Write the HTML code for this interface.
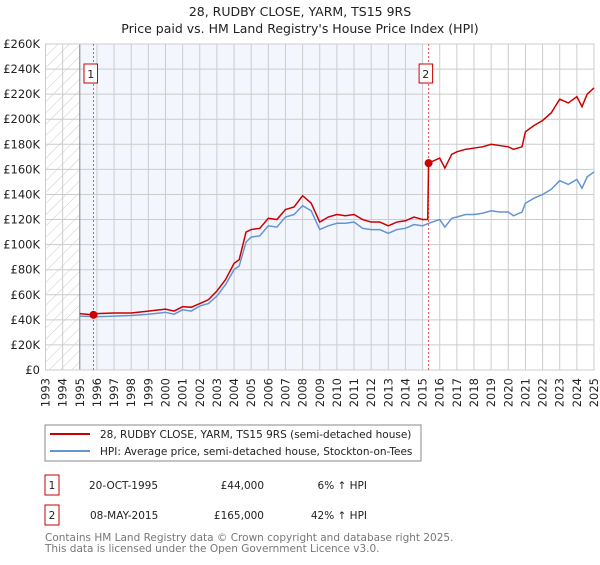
<!DOCTYPE html>
<html><head><meta charset="utf-8"><style>
body{margin:0;background:#fff;}
svg text{font-family:"DejaVu Sans","Liberation Sans",sans-serif;}
</style></head><body>
<svg id="c" width="600" height="560" viewBox="0 0 600 560" xmlns="http://www.w3.org/2000/svg">
<defs><pattern id="hatch" width="8" height="8" patternUnits="userSpaceOnUse" patternTransform="rotate(45)"><line x1="0" y1="0" x2="0" y2="8" stroke="#ccc" stroke-width="1"/></pattern></defs>
<text x="300" y="16" text-anchor="middle" font-size="12.5" fill="#222">28, RUDBY CLOSE, YARM, TS15 9RS</text>
<text x="300" y="33" text-anchor="middle" font-size="12.5" fill="#222">Price paid vs. HM Land Registry's House Price Index (HPI)</text>
<g id="plot"></g>
<g>
<rect x="45" y="425" width="376" height="36" fill="#fff" stroke="#888"/>
<line x1="50" y1="434" x2="90" y2="434" stroke="#cc0000" stroke-width="2"/>
<text x="100" y="438" font-size="10.5" fill="#222">28, RUDBY CLOSE, YARM, TS15 9RS (semi-detached house)</text>
<line x1="50" y1="451" x2="90" y2="451" stroke="#6495d2" stroke-width="2"/>
<text x="100" y="455" font-size="10.5" fill="#222">HPI: Average price, semi-detached house, Stockton-on-Tees</text>
</g>
<g font-size="10.5" fill="#222">
<rect x="45" y="475" width="14" height="20" fill="#fff" stroke="#cc0000"/>
<text x="52" y="489" text-anchor="middle">1</text>
<text x="89" y="489">20-OCT-1995</text>
<text x="264" y="489" text-anchor="end">£44,000</text>
<text x="367" y="489" text-anchor="end">6% ↑ HPI</text>
<rect x="45" y="505" width="14" height="20" fill="#fff" stroke="#cc0000"/>
<text x="52" y="519" text-anchor="middle">2</text>
<text x="90" y="519">08-MAY-2015</text>
<text x="264" y="519" text-anchor="end">£165,000</text>
<text x="367" y="519" text-anchor="end">42% ↑ HPI</text>
</g>
<text x="45" y="541" font-size="10.5" fill="#777">Contains HM Land Registry data © Crown copyright and database right 2025.</text>
<text x="45" y="552" font-size="10.5" fill="#777">This data is licensed under the Open Government Licence v3.0.</text>
</svg>
<script>
const hpiDates=[1995,1996,1997,1998,1999,2000,2000.5,2001,2001.5,2002,2002.5,2003,2003.5,2004,2004.3,2004.7,2005,2005.5,2006,2006.5,2007,2007.5,2008,2008.5,2009,2009.5,2010,2010.5,2011,2011.5,2012,2012.5,2013,2013.5,2014,2014.5,2015,2015.35,2016,2016.3,2016.7,2017,2017.5,2018,2018.5,2019,2019.5,2020,2020.3,2020.8,2021,2021.5,2022,2022.5,2023,2023.5,2024,2024.3,2024.6,2025];
const hpiValues=[43,42.5,43,43.5,44.5,46,44.5,48,47,51,53,59,68,80,83,102,106,107,115,114,122,124,131,127,112,115,117,117,118,113,112,112,109,112,113,116,115,117,120,114,121,122,124,124,125,127,126,126,123,126,133,137,140,144,151,148,152,145,154,158];
const priceDates=[1995,1995.8,1996,1997,1998,1999,2000,2000.5,2001,2001.5,2002,2002.5,2003,2003.5,2004,2004.3,2004.7,2005,2005.5,2006,2006.5,2007,2007.5,2008,2008.5,2009,2009.5,2010,2010.5,2011,2011.5,2012,2012.5,2013,2013.5,2014,2014.5,2015,2015.3,2015.35,2016,2016.3,2016.7,2017,2017.5,2018,2018.5,2019,2019.5,2020,2020.3,2020.8,2021,2021.5,2022,2022.5,2023,2023.5,2024,2024.3,2024.6,2025];
const priceValues=[45,44,45,45.5,45.5,47,48.5,47,50.5,50,53,56,63,72,85,88,110,112,113,121,120,128,130,139,133,118,122,124,123,124,120,118,118,115,118,119,122,120,120,165,169,161,172,174,176,177,178,180,179,178,176,178,190,195,199,205,216,213,218,210,220,225];
const saleDates=[1995.8,2015.35];
const saleValues=[44,165];
const saleLabels=["1","2"];
const yTicks=[0,20,40,60,80,100,120,140,160,180,200,220,240,260];
const yTickLabels=["£0","£20K","£40K","£60K","£80K","£100K","£120K","£140K","£160K","£180K","£200K","£220K","£240K","£260K"];
const xYears=[1993,1994,1995,1996,1997,1998,1999,2000,2001,2002,2003,2004,2005,2006,2007,2008,2009,2010,2011,2012,2013,2014,2015,2016,2017,2018,2019,2020,2021,2022,2023,2024,2025];

const L=45.5,R=594,T=44,B=370;
const x=d=>L+(d-1993)/(2025-1993)*(R-L);
const y=v=>B-v/260*(B-T);
const NS="http://www.w3.org/2000/svg";
const g=document.getElementById('plot');
function mk(t,a){const e=document.createElementNS(NS,t);for(const k in a)e.setAttribute(k,a[k]);g.appendChild(e);return e;}

let e=mk('rect',{x:x(1995),y:T,width:x(2015)-x(1995),height:B-T,fill:'#f3f6fd'});


e=mk('rect',{x:L,y:T,width:x(1995)-L,height:B-T,fill:'url(#hatch)'});


yTicks.forEach((v,i)=>{
  e=mk('line',{x1:L,x2:R,y1:y(v),y2:y(v),stroke:'#ccc','stroke-width':1});
  
  
  e=mk('text',{x:40,y:y(v)+4,'text-anchor':'end','font-size':'11.5',fill:'#222'});
  e.textContent=yTickLabels[i];
  
  
});
xYears.forEach(yr=>{
  e=mk('line',{x1:x(yr),x2:x(yr),y1:T,y2:B,stroke:'#ccc','stroke-width':1});
  
  
  const tx=x(yr)+4,ty=B+8;
  e=mk('text',{x:tx,y:ty,'text-anchor':'end','font-size':'11.5',fill:'#222',transform:`rotate(-90 ${tx} ${ty})`});
  e.textContent=yr;
  
  
});
e=mk('line',{x1:x(1995),x2:x(1995),y1:T,y2:B,stroke:'#888','stroke-width':1});


e=mk('rect',{x:L,y:T,width:R-L,height:B-T,fill:'none',stroke:'#ccc'});


saleDates.forEach((d,i)=>{
  e=mk('line',{x1:x(d),x2:x(d),y1:T,y2:B,stroke:'#f05050','stroke-width':1,'stroke-dasharray':'2,2'});
  
  
});
e=mk('polyline',{points:hpiDates.map((d,i)=>x(d)+','+y(hpiValues[i])).join(' '),fill:'none',stroke:'#6495d2','stroke-width':1.5});


e=mk('polyline',{points:priceDates.map((d,i)=>x(d)+','+y(priceValues[i])).join(' '),fill:'none',stroke:'#cc0000','stroke-width':1.5});


saleDates.forEach((d,i)=>{
  e=mk('circle',{cx:x(d),cy:y(saleValues[i]),r:4,fill:'#cc0000'});
  
  
  e=mk('rect',{x:x(d)-9.5,y:64,width:13.5,height:19,fill:'#fff',stroke:'#cc0000'});
  
  
  e=mk('text',{x:x(d)-2.8,y:78,'text-anchor':'middle','font-size':'11',fill:'#222'});
  e.textContent=saleLabels[i];
  
  
});
</script>
</body></html>
